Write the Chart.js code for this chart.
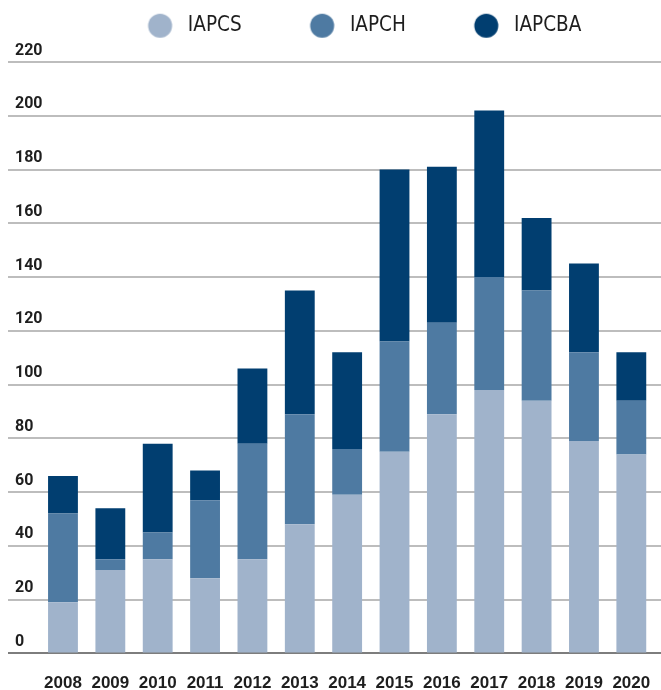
<!DOCTYPE html>
<html>
<head>
<meta charset="utf-8">
<script src="https://cdn.jsdelivr.net/npm/chart.js@4.4.1/dist/chart.umd.min.js"></script>
<style>
  html, body { margin: 0; padding: 0; background: #ffffff; }
  #wrap { width: 661px; height: 690px; }
</style>
</head>
<body>
<div id="wrap"><canvas id="c" width="661" height="690"></canvas></div>
<script>
const years = ['2008','2009','2010','2011','2012','2013','2014','2015','2016','2017','2018','2019','2020'];
const iapcs  = [19, 31, 35, 28, 35, 48, 59, 75, 89, 98, 94, 79, 74];
const iapch  = [33,  4, 10, 29, 43, 41, 17, 41, 34, 42, 41, 33, 20];
const iapcba = [14, 19, 33, 11, 28, 46, 36, 64, 58, 62, 27, 33, 18];
const seriesNames = ['IAPCS', 'IAPCH', 'IAPCBA'];
const yMin = 0, yMax = 220, yStep = 20;

const colors = ['#a0b3cb', '#4e7aa2', '#013e70'];
const gridColor = '#bdbdbd';
const baseColor = '#7d7d7d';
const textColor = '#1e1e1e';

function makeDot(color) {
  const cv = document.createElement('canvas');
  cv.width = 90; cv.height = 26;
  const g = cv.getContext('2d');
  g.fillStyle = color;
  g.beginPath();
  g.arc(72.5, 13, 12, 0, Math.PI * 2);
  g.fill();
  return cv;
}
const dots = colors.map(makeDot);

const legendSpacer = {
  id: 'legendSpacer',
  afterInit(chart) {
    const lg = chart.legend;
    if (!lg) return;
    const orig = lg.fit;
    lg.fit = function () {
      orig.call(this);
      this.height = 54.5;
    };
  }
};

const gridFn = (ctx) => (ctx.tick && ctx.tick.value === 0 ? baseColor : gridColor);

new Chart(document.getElementById('c'), {
  type: 'bar',
  data: {
    labels: years,
    datasets: [
      { label: seriesNames[0], data: iapcs,  backgroundColor: colors[0] },
      { label: seriesNames[1], data: iapch,  backgroundColor: colors[1] },
      { label: seriesNames[2], data: iapcba, backgroundColor: colors[2] }
    ]
  },
  plugins: [legendSpacer],
  options: {
    responsive: false,
    devicePixelRatio: 1,
    animation: false,
    layout: { padding: { top: 7.5, left: 8, right: 0, bottom: 0 } },
    datasets: { bar: { barPercentage: 0.63, categoryPercentage: 1, borderWidth: 0 } },
    plugins: {
      tooltip: { enabled: false },
      legend: {
        position: 'top',
        align: 'center',
        labels: {
          usePointStyle: true,
          pointStyleWidth: 90,
          boxHeight: 21,
          padding: 8,
          color: textColor,
          font: { family: '"DejaVu Sans Condensed", "Liberation Sans", sans-serif', size: 20.5 },
          generateLabels(chart) {
            const items = Chart.defaults.plugins.legend.labels.generateLabels(chart);
            items.forEach((it, i) => { it.pointStyle = dots[i]; });
            return items;
          }
        }
      }
    },
    scales: {
      x: {
        stacked: true,
        grid: { display: false, drawTicks: true, tickLength: 23 },
        border: { display: false },
        ticks: {
          padding: 0,
          autoSkip: false,
          maxRotation: 0,
          color: textColor,
          font: { family: '"Liberation Sans", Arial, sans-serif', size: 17, weight: 'bold', lineHeight: 0.8 }
        }
      },
      y: {
        stacked: true,
        position: 'left',
        min: yMin, max: yMax,
        afterFit(axis) { axis.width = 31.3; },
        grid: { color: gridFn, lineWidth: 2, drawTicks: true, tickLength: 31.3, tickColor: gridFn },
        border: { display: false },
        ticks: {
          stepSize: yStep,
          mirror: true,
          crossAlign: 'near',
          padding: -24.3,
          labelOffset: -11.5,
          color: textColor,
          font: { family: 'Roboto, "Liberation Sans", sans-serif', size: 16, weight: 'bold' }
        }
      },
      y2: {
        display: true,
        position: 'right',
        min: yMin, max: yMax,
        afterFit(axis) { axis.width = 6; },
        grid: { color: gridFn, lineWidth: 2, drawOnChartArea: false, drawTicks: true, tickLength: 6, tickColor: gridFn },
        border: { display: false },
        ticks: { stepSize: yStep, display: false }
      }
    }
  }
});
</script>
</body>
</html>
